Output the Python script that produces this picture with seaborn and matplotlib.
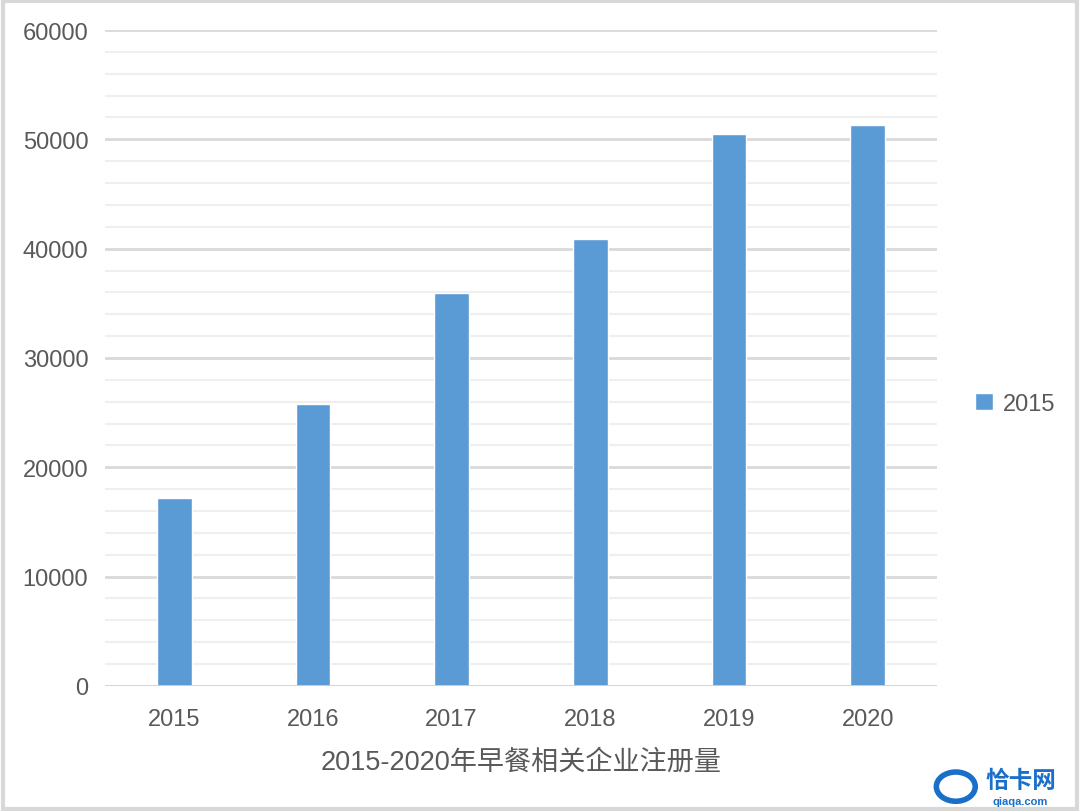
import matplotlib
matplotlib.use("Agg")
import matplotlib.pyplot as plt
import seaborn as sns
import pandas as pd
import numpy as np
from matplotlib.patches import Rectangle

years = ["2015", "2016", "2017", "2018", "2019", "2020"]
values = [17200, 25800, 35900, 40900, 50500, 51300]
series_name = "2015"
xlabel = "2015-2020年早餐相关企业注册量"

sns.set_theme(style="white")
plt.rcParams['font.family'] = ['Liberation Sans', 'Noto Sans CJK SC', 'DejaVu Sans']

df = pd.DataFrame({"year": years, "count": values})

fig = plt.figure(figsize=(10.8, 8.12), dpi=100)
ax = fig.add_axes([0.0972, 0.154, 0.7704, 0.8078])

bar_color = "#5B9BD5"
sns.barplot(data=df, x="year", y="count", color=bar_color, width=0.25,
            label=series_name, ax=ax, saturation=1)

ax.set_ylim(0, 60000)
ax.set_xlim(-0.5, 5.5)
ax.set_yticks(np.arange(0, 60001, 10000))
ax.grid(False)
for y in np.arange(2000, 60001, 2000):
    if y % 10000 == 0:
        ax.axhline(y, color="#d9d9d9", lw=2.0, zorder=0)
    else:
        ax.axhline(y, color="#efefef", lw=1.5, zorder=0)
ax.axhline(0, color="#d0d0d0", lw=2.0, zorder=3)

for s in ax.spines.values():
    s.set_visible(False)
ax.tick_params(axis="both", which="both", length=0)
ax.tick_params(axis="y", labelsize=17, labelcolor="#595959", pad=12)
ax.tick_params(axis="x", labelsize=17, labelcolor="#595959", pad=16)
ax.set_ylabel("")
ax.set_xlabel(xlabel, fontsize=19.5, color="#595959", labelpad=13)

leg = ax.legend(loc="center left", bbox_to_anchor=(1.02, 0.43), frameon=False,
                fontsize=17, handlelength=0.75, handleheight=0.75, handletextpad=0.45)
for t in leg.get_texts():
    t.set_color("#595959")

# figure border
fig.patches.append(Rectangle((0.003, 0.003), 0.994, 0.994, transform=fig.transFigure,
                             fill=False, edgecolor="#d8d8d8", lw=3))

# watermark
fig.text(0.945, 0.038, "恰卡网", fontsize=17, color="#1a6fc9", fontweight="bold",
         family=['Noto Sans CJK SC'], ha="center", va="center")
fig.text(0.945, 0.012, "qiaqa.com", fontsize=8, color="#1a6fc9", fontweight="bold",
         ha="center", va="center")
fig.patches.append(plt.Circle((0.885, 0.03), 0.018, transform=fig.transFigure,
                              fill=False, edgecolor="#1a6fc9", lw=4))

fig.savefig("out.png", dpi=100)
